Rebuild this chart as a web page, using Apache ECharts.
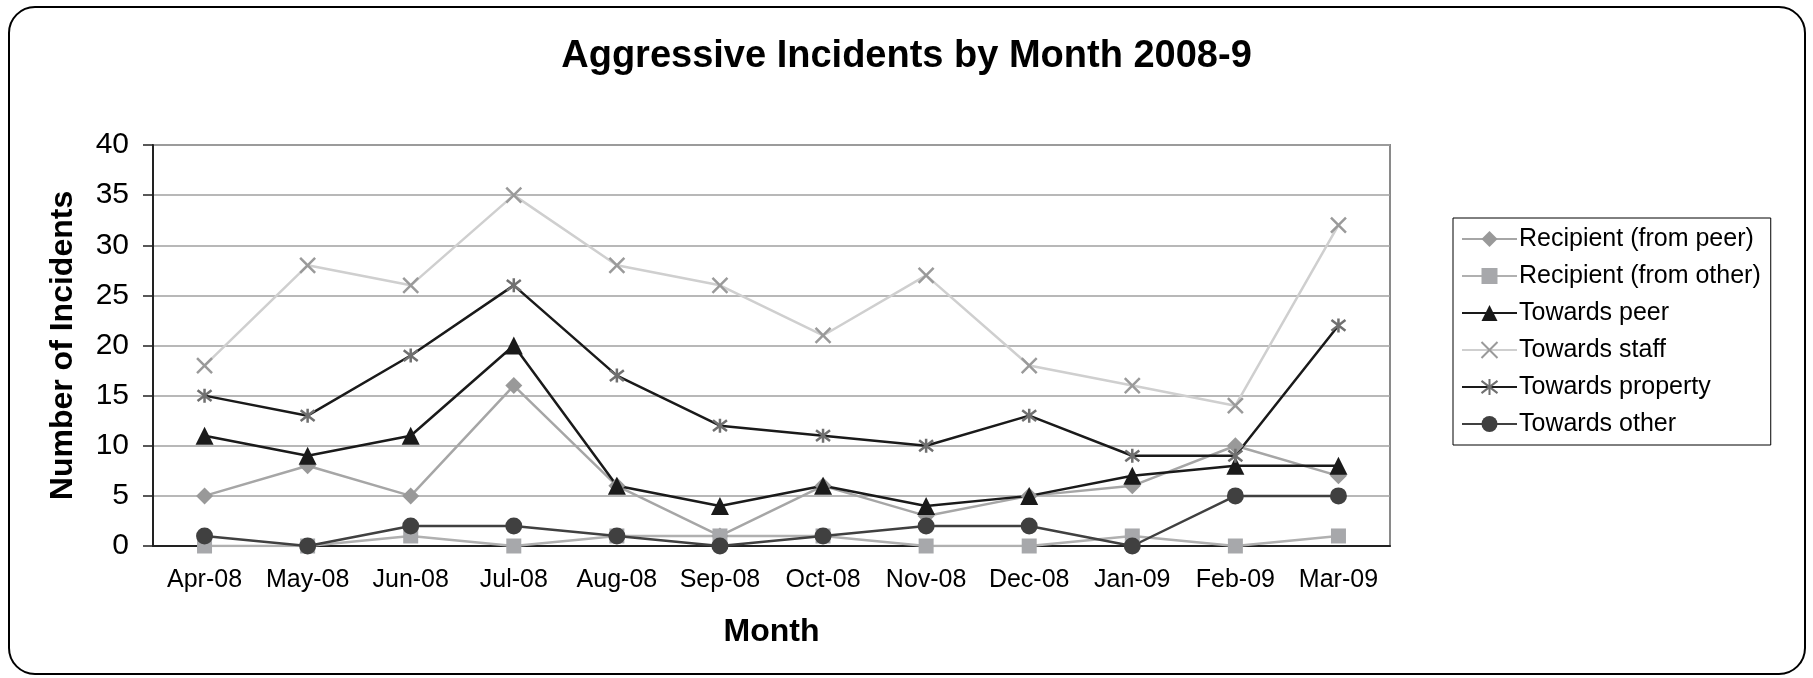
<!DOCTYPE html>
<html>
<head>
<meta charset="utf-8">
<script src="https://cdn.jsdelivr.net/npm/echarts@6/dist/echarts.min.js"></script>
<style>
    html, body {margin: 0; padding: 0; background: #fff;}
    #chart {width: 1813px; height: 678px;}
</style>
</head>
<body>
<div id="chart"></div>
<script>
const months = ['Apr-08', 'May-08', 'Jun-08', 'Jul-08', 'Aug-08', 'Sep-08', 'Oct-08', 'Nov-08', 'Dec-08', 'Jan-09', 'Feb-09', 'Mar-09'];
const recipientPeer = [5, 8, 5, 16, 6, 1, 6, 3, 5, 6, 10, 7];
const recipientOther = [0, 0, 1, 0, 1, 1, 1, 0, 0, 1, 0, 1];
const towardsPeer = [11, 9, 11, 20, 6, 4, 6, 4, 5, 7, 8, 8];
const towardsStaff = [18, 28, 26, 35, 28, 26, 21, 27, 18, 16, 14, 32];
const towardsProperty = [15, 13, 19, 26, 17, 12, 11, 10, 13, 9, 9, 22];
const towardsOther = [1, 0, 2, 2, 1, 0, 1, 2, 2, 0, 5, 5];

const FONT = "'Liberation Sans', Arial, sans-serif";
const CROSS = 'path://M0,0L10,10M10,0L0,10';
const STAR = 'path://M0,0L10,10M10,0L0,10M5,-1.5L5,11.5';

const makeSeries = (name, data, lineColor, symbol, symbolSize, markColor, stroke) => {
    return {
        name,
        type: 'line',
        data,
        symbol,
        symbolSize,
        showAllSymbol: true,
        lineStyle: {color: lineColor, width: 2.5},
        itemStyle: stroke ?
            {color: 'rgba(0,0,0,0)', borderColor: markColor, borderWidth: 2.5} :
            {color: markColor, borderWidth: 0},
        emphasis: {disabled: true}
    };
};

const chart = echarts.init(document.getElementById('chart'));
chart.setOption({
    animation: false,
    backgroundColor: '#fff',
    textStyle: {fontFamily: FONT},
    graphic: [{
        type: 'rect',
        shape: {x: 9, y: 7, width: 1796, height: 667, r: 26},
        style: {fill: 'none', stroke: '#000', lineWidth: 2},
        silent: true
    }],
    title: {
        text: 'Aggressive Incidents by Month 2008-9',
        left: 'center',
        top: 38,
        padding: 0,
        textStyle: {fontFamily: FONT, fontSize: 38, fontWeight: 'bold', color: '#000'}
    },
    grid: {
        left: 153,
        top: 145,
        right: 423,
        bottom: 132,
        show: true,
        borderColor: '#8a8a8a',
        borderWidth: 2
    },
    legend: {
        orient: 'vertical',
        left: 1453,
        top: 218,
        padding: [6, 10, 6, 8],
        backgroundColor: '#fff',
        borderColor: '#000',
        borderWidth: 1,
        itemWidth: 55,
        itemHeight: 20,
        itemGap: 7,
        textStyle: {fontFamily: FONT, fontSize: 25, color: '#000', lineHeight: 30, padding: [0, 0, 0, -3]},
        data: ['Recipient (from peer)', 'Recipient (from other)', 'Towards peer', 'Towards staff', 'Towards property', 'Towards other']
    },
    xAxis: {
        type: 'category',
        data: months,
        name: 'Month',
        nameLocation: 'middle',
        nameGap: 70,
        nameTextStyle: {fontFamily: FONT, fontSize: 32, fontWeight: 'bold', color: '#000'},
        axisLine: {lineStyle: {color: '#222', width: 2}},
        axisTick: {length: 8, lineStyle: {color: '#222', width: 1.5}},
        axisLabel: {interval: 0, fontFamily: FONT, fontSize: 25, color: '#000', margin: 22},
        splitLine: {show: false}
    },
    yAxis: {
        type: 'value',
        min: 0,
        max: 40,
        interval: 5,
        name: 'Number of Incidents',
        nameLocation: 'middle',
        nameGap: 74,
        nameRotate: 90,
        nameTextStyle: {fontFamily: FONT, fontSize: 32, fontWeight: 'bold', color: '#000'},
        axisLine: {show: true, lineStyle: {color: '#222', width: 2}},
        axisTick: {show: true, length: 10, lineStyle: {color: '#222', width: 1.5}},
        axisLabel: {fontFamily: FONT, fontSize: 30, color: '#000', margin: 24},
        splitLine: {lineStyle: {color: '#a0a0a0', width: 1.5}}
    },
    series: [
        makeSeries('Recipient (from peer)', recipientPeer, '#a6a6a6', 'diamond', 17, '#999999', false),
        makeSeries('Recipient (from other)', recipientOther, '#b0b0b0', 'rect', 15, '#a7a8ab', false),
        makeSeries('Towards peer', towardsPeer, '#1a1a1a', 'triangle', 18, '#1a1a1a', false),
        makeSeries('Towards staff', towardsStaff, '#cfcfcf', CROSS, 15, '#9a9a9a', true),
        makeSeries('Towards property', towardsProperty, '#1a1a1a', STAR, 14, '#707070', true),
        makeSeries('Towards other', towardsOther, '#404040', 'circle', 17, '#404040', false)
    ]
});
</script>
</body>
</html>
